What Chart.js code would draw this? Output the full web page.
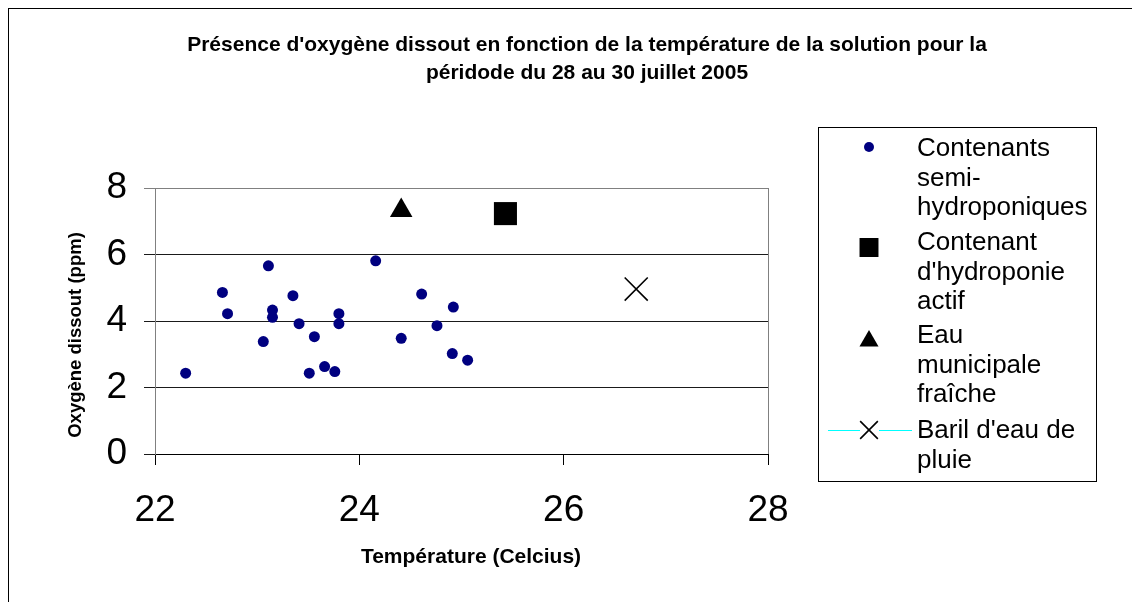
<!DOCTYPE html>
<html>
<head>
<meta charset="utf-8">
<script src="https://cdn.jsdelivr.net/npm/chart.js@4.4.0/dist/chart.umd.min.js"></script>
<style>
    html, body { margin: 0; padding: 0; background: #fff; }
    #wrap { width: 1132px; height: 602px; position: relative; }
</style>
</head>
<body>
<div id="wrap"><canvas id="chart" width="1132" height="602"></canvas></div>
<script>
// Séries (température en °C, oxygène dissous en ppm)
const semiTemp = [22.30, 22.66, 22.71, 23.11, 23.06, 23.15, 23.15, 23.35, 23.41, 23.56, 23.51,
                  23.66, 23.76, 23.80, 23.80, 24.16, 24.61, 24.41, 24.76, 24.92, 24.91, 25.06];
const semiOxy  = [2.43, 4.86, 4.22, 5.66, 3.38, 4.33, 4.11, 4.76, 3.92, 3.53, 2.43,
                  2.63, 2.48, 4.22, 3.92, 5.81, 4.81, 3.48, 3.86, 4.42, 3.02, 2.82];
const hydroTemp = [25.43];
const hydroOxy  = [7.23];
const municipalTemp = [24.41];
const municipalOxy  = [7.32];
const rainTemp = [26.71];
const rainOxy  = [4.96];

const xTicks = [22, 24, 26, 28];
const yTicks = [0, 2, 4, 6, 8];

const titleLines = [
    "Présence d'oxygène dissout en fonction de la température de la solution pour la",
    "péridode du 28 au 30 juillet 2005"
];
const xTitle = 'Température (Celcius)';
const yTitle = 'Oxygène dissout (ppm)';
const legendLines = [
    ['Contenants', 'semi-', 'hydroponiques'],
    ['Contenant', "d'hydroponie", 'actif'],
    ['Eau', 'municipale', 'fraîche'],
    ["Baril d'eau de", 'pluie']
];

const FONT = "'Liberation Sans', Arial, Helvetica, sans-serif";
const toPoints = (xs, ys) => xs.map((x, i) => ({ x: x, y: ys[i] }));

const datasets = [
    { label: legendLines[0].join(' '), data: toPoints(semiTemp, semiOxy),
      pointStyle: 'circle', pointRadius: 5.5, backgroundColor: '#000080', borderColor: '#000080', borderWidth: 0,
      legendRadius: 5 },
    { label: legendLines[1].join(' '), data: toPoints(hydroTemp, hydroOxy),
      pointStyle: 'rect', pointRadius: 16.3, backgroundColor: '#000', borderColor: '#000', borderWidth: 0,
      legendRadius: 13.4 },
    { label: legendLines[2].join(' '), data: toPoints(municipalTemp, municipalOxy),
      pointStyle: 'triangle', pointRadius: 13, backgroundColor: '#000', borderColor: '#000', borderWidth: 0,
      legendRadius: 11 },
    { label: legendLines[3].join(' '), data: toPoints(rainTemp, rainOxy),
      pointStyle: 'crossRot', pointRadius: 16.3, backgroundColor: '#000', borderColor: '#000', borderWidth: 1.6,
      legendRadius: 12.5, legendLine: '#00ffff' }
];

// décor : cadre, titres, légende façon Excel
const decor = {
    id: 'decor',
    beforeDraw(chart) {
        const { ctx, chartArea: a } = chart;
        ctx.save();
        ctx.fillStyle = '#fff';
        ctx.fillRect(0, 0, chart.width, chart.height);
        ctx.strokeStyle = '#000';
        ctx.lineWidth = 1;
        ctx.strokeRect(8.5, 8.5, chart.width + 20, chart.height + 20);
        ctx.strokeStyle = '#808080';
        ctx.strokeRect(Math.round(a.left) + 0.5, Math.round(a.top) + 0.5,
                       Math.round(a.right - a.left), Math.round(a.bottom - a.top));
        ctx.restore();
    },
    afterDraw(chart) {
        const ctx = chart.ctx;
        ctx.save();
        ctx.fillStyle = '#000';
        ctx.textAlign = 'center';
        ctx.textBaseline = 'middle';

        // titre
        ctx.font = 'bold 21px ' + FONT;
        titleLines.forEach((t, i) => ctx.fillText(t, 587, 45 + i * 28));

        // titres des axes
        ctx.font = 'bold 21px ' + FONT;
        ctx.fillText(xTitle, 471, 557);
        ctx.save();
        ctx.translate(76, 335);
        ctx.rotate(-Math.PI / 2);
        ctx.font = 'bold 18.5px ' + FONT;
        ctx.fillText(yTitle, 0, 0);
        ctx.restore();

        // légende
        ctx.strokeStyle = '#000';
        ctx.lineWidth = 1;
        ctx.strokeRect(818.5, 127.5, 278, 354);
        const groupBase = [156, 250, 343, 438];
        const markerY = [147, 247.5, 341, 430];
        ctx.textAlign = 'left';
        ctx.textBaseline = 'alphabetic';
        ctx.font = '26px ' + FONT;
        chart.data.datasets.forEach((ds, i) => {
            if (ds.legendLine) {
                ctx.strokeStyle = ds.legendLine;
                ctx.lineWidth = 1;
                ctx.beginPath();
                ctx.moveTo(828, markerY[i] + 0.5);
                ctx.lineTo(860, markerY[i] + 0.5);
                ctx.moveTo(879, markerY[i] + 0.5);
                ctx.lineTo(912, markerY[i] + 0.5);
                ctx.stroke();
            }
            ctx.fillStyle = ds.backgroundColor;
            ctx.strokeStyle = ds.borderColor;
            ctx.lineWidth = ds.borderWidth;
            Chart.helpers.drawPoint(ctx, {
                pointStyle: ds.pointStyle, radius: ds.legendRadius, rotation: 0, borderWidth: ds.borderWidth
            }, 869, markerY[i]);
            ctx.fillStyle = '#000';
            legendLines[i].forEach((t, j) => ctx.fillText(t, 917, groupBase[i] + j * 29.5));
        });
        ctx.restore();
    }
};

new Chart(document.getElementById('chart'), {
    type: 'scatter',
    data: { datasets: datasets },
    options: {
        responsive: false,
        animation: false,
        devicePixelRatio: 1,
        layout: { padding: { left: 0, top: 188, right: 364, bottom: 0 } },
        plugins: {
            legend: { display: false },
            title: { display: false },
            tooltip: { enabled: false }
        },
        scales: {
            x: {
                type: 'linear',
                min: 22,
                max: 28,
                afterBuildTicks: s => { s.ticks = xTicks.map(v => ({ value: v })); },
                afterFit: s => { s.height = 148; },
                ticks: { color: '#000', font: { family: FONT, size: 37 }, padding: 24, maxRotation: 0 },
                grid: { drawOnChartArea: false, drawTicks: true, tickLength: 11, color: '#000' },
                border: { color: '#000', width: 1 }
            },
            y: {
                type: 'linear',
                min: 0,
                max: 8,
                afterBuildTicks: s => { s.ticks = yTicks.map(v => ({ value: v })); },
                afterFit: s => { s.width = 155; },
                ticks: { color: '#000', font: { family: FONT, size: 37 }, padding: 17 },
                grid: {
                    color: c => (c.tick && c.tick.value === 8 ? '#808080' : '#1a1a1a'),
                    tickLength: 11
                },
                border: { color: '#808080', width: 1 }
            }
        }
    },
    plugins: [decor]
});
</script>
</body>
</html>
